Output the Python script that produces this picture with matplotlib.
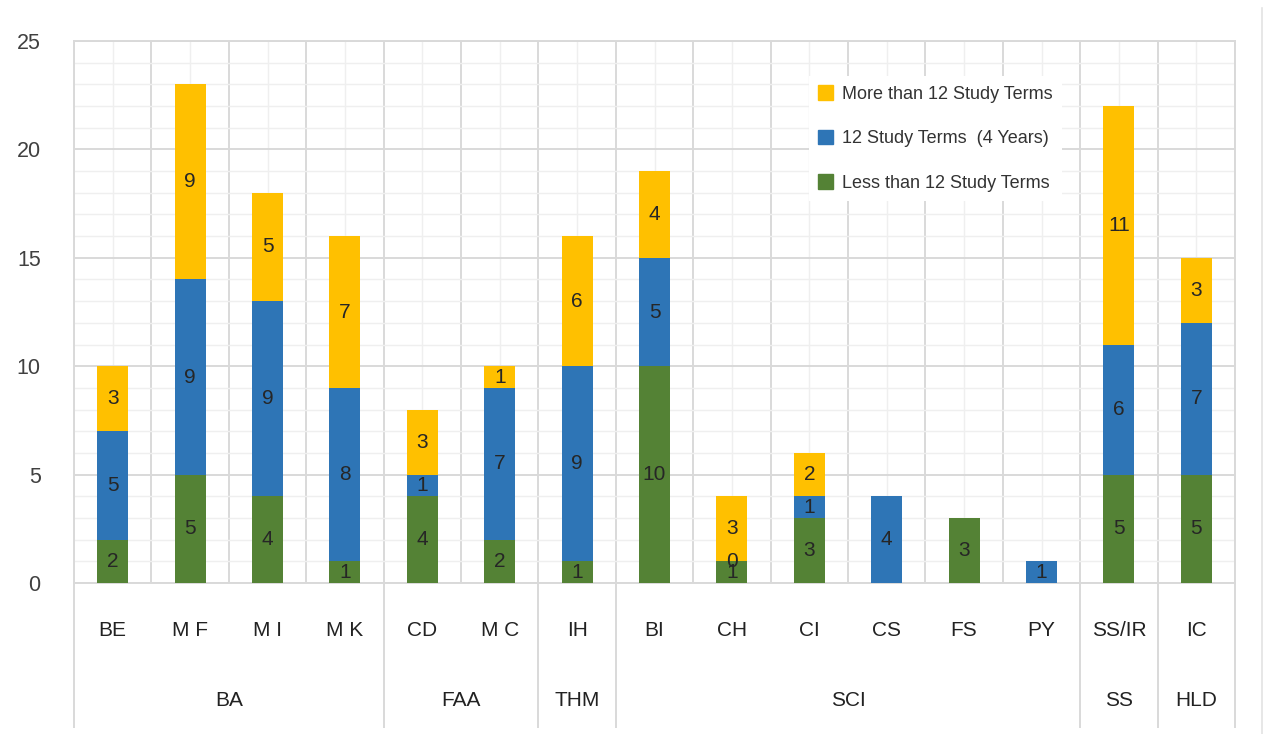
import matplotlib
matplotlib.use("Agg")
import matplotlib.pyplot as plt
from matplotlib.lines import Line2D
from matplotlib.patches import Patch
import matplotlib.transforms as mtransforms
import numpy as np

plt.rcParams['font.family'] = ['Liberation Sans', 'DejaVu Sans']

categories = ["BE", "M F", "M I", "M K", "CD", "M C", "IH", "BI", "CH", "CI", "CS", "FS", "PY", "SS/IR", "IC"]
groups = ["BA", "FAA", "THM", "SCI", "SS", "HLD"]
group_sizes = [4, 2, 1, 6, 1, 1]

less_than_12 = [2, 5, 4, 1, 4, 2, 1, 10, 1, 3, 0, 3, 0, 5, 5]
twelve_terms = [5, 9, 9, 8, 1, 7, 9, 5, 0, 1, 4, 0, 1, 6, 7]
more_than_12 = [3, 9, 5, 7, 3, 1, 6, 4, 3, 2, 0, 0, 0, 11, 3]

series = [
    ("Less than 12 Study Terms", less_than_12, "#548235"),
    ("12 Study Terms  (4 Years)", twelve_terms, "#2E75B6"),
    ("More than 12 Study Terms", more_than_12, "#FFC000"),
]
# zero segments that still show a label in the original (CH blue)
show_zero = {(1, 8)}

W, H = 1270, 734
fig = plt.figure(figsize=(W / 100, H / 100), dpi=100)
ax = fig.add_axes([74 / W, (H - 583) / H, (1235 - 74) / W, (583 - 41) / H])

n = len(categories)
x = np.arange(n)
ax.set_xlim(-0.5, n - 0.5)
ax.set_ylim(0, 25)

major_col = "#D9D9D9"
minor_col = "#EFEFEF"

ax.set_yticks(np.arange(0, 26, 5))
ax.set_yticks(np.arange(0, 26, 1), minor=True)
ax.set_xticks(np.arange(-0.5, n, 1.0))
ax.set_xticks(x, minor=True)
ax.grid(which="major", color=major_col, linewidth=1.4, zorder=0)
ax.grid(which="minor", color=minor_col, linewidth=1.0, zorder=0)
ax.set_axisbelow(True)
ax.tick_params(axis="both", which="both", length=0)
ax.tick_params(axis="x", which="both", labelbottom=False)
ax.tick_params(axis="y", labelsize=15.5, labelcolor="#404040", pad=24)
for s in ax.spines.values():
    s.set_color(major_col)
    s.set_linewidth(1.4)

bottom = np.zeros(n)
for si, (name, vals, col) in enumerate(series):
    vals = np.array(vals, dtype=float)
    ax.bar(x, vals, width=0.4, bottom=bottom, color=col, label=name, zorder=3)
    for i, v in enumerate(vals):
        if v > 0 or (si, i) in show_zero:
            ax.text(x[i], bottom[i] + v / 2, f"{int(v)}", ha="center", va="center",
                    fontsize=15, color="#262626", zorder=4)
    bottom += vals

trans = mtransforms.blended_transform_factory(ax.transData, ax.transAxes)
px = 1 / (583 - 41)
for i, c in enumerate(categories):
    ax.text(i, -(630 - 583) * px, c, transform=trans, ha="center", va="center",
            fontsize=15, color="#222222")

start = 0
y_low = -(727 - 583) * px
bounds = [-0.5]
for g, sz in zip(groups, group_sizes):
    center = start + (sz - 1) / 2
    ax.text(center, -(700 - 583) * px, g, transform=trans, ha="center", va="center",
            fontsize=15, color="#222222")
    start += sz
    bounds.append(start - 0.5)
for b in bounds:
    ax.add_line(Line2D([b, b], [0, y_low], transform=trans, color=major_col,
                       linewidth=1.4, clip_on=False))

fig.add_artist(Line2D([1262 / W, 1262 / W], [0, (H - 8) / H], transform=fig.transFigure,
                      color="#E3E3E3", linewidth=1.2))

handles = [Patch(color=c) for _, _, c in series][::-1]
labels = [nm for nm, _, _ in series][::-1]
leg = ax.legend(handles, labels, loc="upper left", bbox_to_anchor=(0.633, 0.935),
                borderaxespad=0, fontsize=13, frameon=True, fancybox=False,
                facecolor="white", edgecolor="none", framealpha=1,
                handlelength=0.85, handleheight=0.85, handletextpad=0.5,
                labelspacing=1.5, borderpad=0.5)
for t in leg.get_texts():
    t.set_color("#333333")
leg.set_zorder(5)

fig.savefig("out.png", dpi=100, facecolor="white")
